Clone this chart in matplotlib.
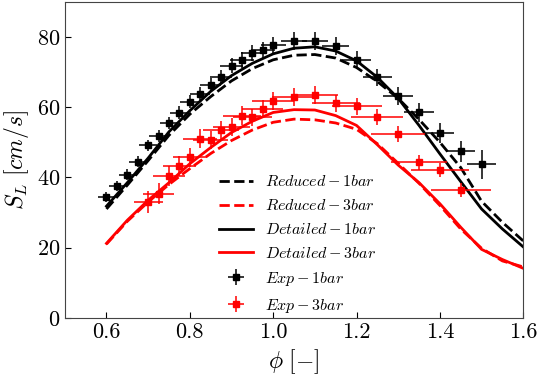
import matplotlib
matplotlib.use("Agg")
import matplotlib.pyplot as plt

plt.rcParams['mathtext.fontset'] = 'cm'
plt.rcParams['font.family'] = 'serif'
plt.rcParams['font.serif'] = ['cmr10', 'DejaVu Serif']
plt.rcParams['axes.formatter.use_mathtext'] = True

# model curves
phi_model = [0.60, 0.65, 0.70, 0.75, 0.80, 0.85, 0.90, 0.95, 1.00, 1.05, 1.10,
             1.15, 1.20, 1.25, 1.30, 1.35, 1.40, 1.45, 1.50, 1.55, 1.60]
reduced_1bar = [31.0, 37.8, 44.8, 52.0, 58.0, 63.0, 67.5, 71.0, 73.5, 74.8, 75.0,
                74.0, 71.3, 67.3, 62.5, 56.5, 50.0, 42.8, 33.2, 27.2, 21.9]
reduced_3bar = [21.0, 27.5, 33.0, 38.0, 42.5, 46.8, 50.5, 53.5, 55.7, 56.6, 56.4,
                55.5, 53.7, 49.6, 44.0, 38.3, 32.0, 25.3, 19.8, 16.2, 14.5]
detailed_1bar = [31.8, 38.5, 45.5, 53.0, 59.0, 64.5, 69.0, 72.5, 75.2, 76.8, 77.2,
                 76.0, 73.2, 68.5, 62.5, 54.8, 46.7, 38.8, 31.0, 25.3, 20.2]
detailed_3bar = [21.2, 27.8, 33.5, 38.5, 43.9, 48.5, 52.8, 56.0, 58.5, 59.3, 59.2,
                 57.6, 54.8, 49.3, 43.5, 38.5, 32.5, 25.8, 19.5, 16.6, 14.1]

# experiments 1 bar
phi_exp1 = [0.600, 0.625, 0.650, 0.675, 0.700, 0.725, 0.750, 0.775, 0.800, 0.825,
            0.850, 0.875, 0.900, 0.925, 0.950, 0.975, 1.000, 1.050, 1.100, 1.150,
            1.200, 1.250, 1.300, 1.350, 1.400, 1.450, 1.500]
sl_exp1 = [34.4, 37.5, 40.8, 44.5, 49.1, 51.9, 55.4, 58.4, 61.6, 63.9,
           66.3, 68.5, 71.8, 73.4, 75.5, 76.3, 77.6, 78.9, 78.9, 77.4,
           73.5, 68.5, 63.1, 58.5, 52.6, 47.5, 43.7]
xerr_exp1 = [0.020, 0.020, 0.020, 0.021, 0.021, 0.022, 0.022, 0.023, 0.024, 0.024,
             0.025, 0.026, 0.027, 0.028, 0.028, 0.029, 0.030, 0.031, 0.032, 0.033,
             0.034, 0.035, 0.036, 0.037, 0.034, 0.034, 0.034]
yerr_exp1 = [1.5, 1.5, 1.5, 1.6, 1.6, 1.7, 1.7, 1.8, 1.8, 1.9,
             2.0, 2.0, 2.1, 2.2, 2.2, 2.3, 2.4, 2.5, 2.6, 2.6,
             2.5, 2.5, 2.6, 2.8, 2.8, 3.0, 4.1]

# experiments 3 bar
phi_exp3 = [0.700, 0.725, 0.750, 0.775, 0.800, 0.825, 0.850, 0.875, 0.900, 0.925,
            0.950, 0.975, 1.000, 1.050, 1.100, 1.150, 1.200, 1.250, 1.300, 1.350,
            1.400, 1.450]
sl_exp3 = [33.0, 35.4, 40.4, 43.3, 45.8, 51.0, 50.7, 53.5, 54.3, 57.6,
           57.1, 59.5, 61.8, 62.8, 63.5, 61.1, 60.2, 57.1, 52.4, 44.3,
           42.0, 36.3]
xerr_exp3 = [p * 0.05 for p in phi_exp3]
yerr_exp3 = [3.0, 3.0, 2.8, 2.8, 2.7, 2.7, 2.6, 2.6, 2.6, 2.6,
             2.5, 2.5, 2.6, 2.6, 2.6, 2.5, 2.4, 2.3, 2.2, 2.1,
             2.0, 2.0]

fig = plt.figure(figsize=(5.4, 3.77), dpi=100)
ax = fig.add_axes([0.120, 0.157, 0.849, 0.838])

lw = 2.0
ax.plot(phi_model, reduced_1bar, color='black', ls='--', lw=lw, label=r'$Reduced-1bar$')
ax.plot(phi_model, reduced_3bar, color='red', ls='--', lw=lw, label=r'$Reduced-3bar$')
ax.plot(phi_model, detailed_1bar, color='black', ls='-', lw=lw, label=r'$Detailed-1bar$')
ax.plot(phi_model, detailed_3bar, color='red', ls='-', lw=lw, label=r'$Detailed-3bar$')
ax.errorbar(phi_exp1, sl_exp1, xerr=xerr_exp1, yerr=yerr_exp1, fmt='s', color='black',
            ms=5, elinewidth=1.1, capsize=0, label=r'$Exp-1bar$')
ax.errorbar(phi_exp3, sl_exp3, xerr=xerr_exp3, yerr=yerr_exp3, fmt='s', color='red',
            ms=5, elinewidth=1.1, capsize=0, label=r'$Exp-3bar$')

ax.set_xlim(0.5, 1.6)
ax.set_ylim(0, 90)
ax.set_xticks([0.6, 0.8, 1.0, 1.2, 1.4, 1.6])
ax.set_xticklabels(['0.6', '0.8', '1.0', '1.2', '1.4', '1.6'])
ax.set_yticks([0, 20, 40, 60, 80])
ax.tick_params(direction='in', labelsize=16, length=4, top=False, right=False)
ax.set_xlabel(r'$\phi\ [-]$', fontsize=17)
ax.set_ylabel(r'$S_L\ [cm/s]$', fontsize=17)
for s in ax.spines.values():
    s.set_color('#444444')

ax.legend(loc='upper left', bbox_to_anchor=(0.305, 0.50), frameon=False, fontsize=11.5,
          handlelength=2.1, handletextpad=0.8, labelspacing=0.56)

fig.savefig('out.png', dpi=100)
